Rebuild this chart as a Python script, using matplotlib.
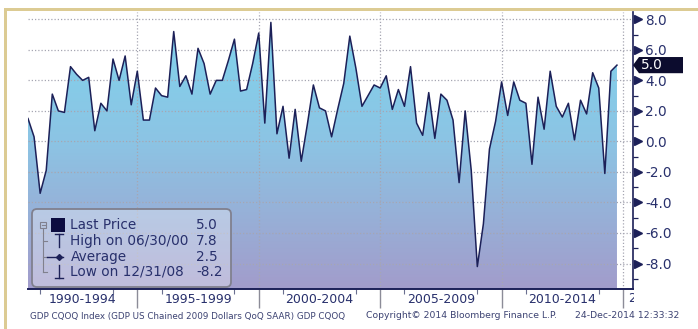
#  GDP CQOQ chart - US real GDP, quarter on quarter (SAAR), Bloomberg style
import matplotlib
matplotlib.use('Agg')
import matplotlib.pyplot as plt
import matplotlib.transforms as mtransforms
from matplotlib.patches import Rectangle, FancyBboxPatch, Polygon
from matplotlib.colors import LinearSegmentedColormap
from matplotlib.ticker import FormatStrFormatter
import numpy as np
import pandas as pd

# ---- data ----
quarters = pd.period_range('1990Q2', '2014Q3', freq='Q')
gdp_qoq = [1.5, 0.3, -3.4,
           -1.9, 3.1, 2.0, 1.9,
           4.9, 4.4, 4.0, 4.2,
           0.7, 2.5, 2.0, 5.4,
           4.0, 5.6, 2.4, 4.6,
           1.4, 1.4, 3.5, 3.0,
           2.9, 7.2, 3.6, 4.3,
           3.1, 6.1, 5.1, 3.1,
           4.0, 4.0, 5.3, 6.7,
           3.3, 3.4, 5.1, 7.1,
           1.2, 7.8, 0.5, 2.3,
           -1.1, 2.1, -1.3, 1.1,
           3.7, 2.2, 2.0, 0.3,
           2.1, 3.8, 6.9, 4.8,
           2.3, 3.0, 3.7, 3.5,
           4.3, 2.1, 3.4, 2.3,
           4.9, 1.2, 0.4, 3.2,
           0.2, 3.1, 2.7, 1.4,
           -2.7, 2.0, -1.9, -8.2,
           -5.4, -0.5, 1.3, 3.9,
           1.7, 3.9, 2.7, 2.5,
           -1.5, 2.9, 0.8, 4.6,
           2.3, 1.6, 2.5, 0.1,
           2.7, 1.8, 4.5, 3.5,
           -2.1, 4.6, 5.0]

period_starts = [1990, 1995, 2000, 2005, 2010]
period_labels = ['1990-1994', '1995-1999', '2000-2004', '2005-2009', '2010-2014']
legend_names = ['Last Price', 'High on 06/30/00', 'Average', 'Low on 12/31/08']
legend_values = ['5.0', '7.8', '2.5', '-8.2']
last_price = 5.0

footer_left = 'GDP CQOQ Index (GDP US Chained 2009 Dollars QoQ SAAR) GDP CQOQ'
footer_mid = 'Copyright\u00a9 2014 Bloomberg Finance L.P.'
footer_right = '24-Dec-2014 12:33:32'

NAVY = '#1c2058'
TEXT = '#28306c'
GRID = '#a6a6b2'
W, H = 698, 329

plt.rcParams['axes.unicode_minus'] = False


def main():
    x = np.array(quarters.year + quarters.quarter * 0.25, dtype=float)
    y = np.array(gdp_qoq)
    ymin, ymax = -9.67, 8.5

    fig = plt.figure(figsize=(W / 100, H / 100), dpi=100)
    ax = fig.add_axes([28 / W, 1 - 289 / H, 605 / W, 277.3 / H])

    # gradient fill under the line, clipped to the area below the curve
    fill = ax.fill_between(x, y, ymin, facecolor='none', edgecolor='none')
    cmap = LinearSegmentedColormap.from_list(
        'bbg', [(0.0, '#a29ccb'), (0.53, '#8cc4e4'), (1.0, '#7fd4ed')])
    grad = np.linspace(0, 1, 256).reshape(-1, 1)
    im = ax.imshow(grad, cmap=cmap, origin='lower', aspect='auto',
                   extent=[x[0], x[-1], ymin, ymax], zorder=0)
    im.set_clip_path(fill.get_paths()[0], transform=ax.transData)

    ax.plot(x, y, color=NAVY, lw=1.1, zorder=3)

    ax.set_xlim(1990.5, 2015.41)
    ax.set_ylim(ymin, ymax)

    # grid + ticks
    ax.set_xticks(range(1995, 2016, 5))
    ax.set_xticks([s + k for s in period_starts for k in (1, 4)], minor=True)
    ax.set_yticks(np.arange(-8, 9, 2))
    ax.set_yticks(np.arange(-9, 8, 2), minor=True)
    ax.grid(True, which='major', color=GRID, linestyle=(0, (1, 1.6)), lw=0.9)
    ax.tick_params(axis='x', which='major', direction='out', length=14,
                   width=1, color='#8c8c98', labelbottom=False)
    ax.tick_params(axis='x', which='minor', direction='out', length=3.5,
                   width=0.8, color='#6a6f90')
    ax.yaxis.tick_right()
    ax.yaxis.set_major_formatter(FormatStrFormatter('%.1f'))
    ax.tick_params(axis='y', which='major', length=0, pad=9,
                   labelsize=9.8, labelcolor=TEXT)
    ax.tick_params(axis='y', which='minor', direction='out', length=3.6,
                   width=0.9, color=NAVY)

    for side in ['top', 'left']:
        ax.spines[side].set_visible(False)
    ax.spines['right'].set_color(NAVY)
    ax.spines['right'].set_linewidth(1.2)
    ax.spines['bottom'].set_color(NAVY)
    ax.spines['bottom'].set_linewidth(1.4)

    # triangle markers on right axis
    trans = mtransforms.blended_transform_factory(ax.transAxes, ax.transData)
    yt = np.arange(-8, 9, 2)
    ax.plot(np.full(len(yt), 1 + 5 / 605), yt, ls='none', marker='>', ms=5.5,
            color=NAVY, transform=trans, clip_on=False, zorder=5)

    # last price tag
    dx = 1 / 605
    tag = Polygon([(1.0, last_price), (1 + 6 * dx, last_price + 0.53),
                   (1 + 50 * dx, last_price + 0.53), (1 + 50 * dx, last_price - 0.53),
                   (1 + 6 * dx, last_price - 0.53)],
                  closed=True, fc='#0c0c2e', ec='none', transform=trans,
                  clip_on=False, zorder=6)
    ax.add_patch(tag)
    ax.text(1 + 8 * dx, last_price, '%.1f' % last_price, transform=trans,
            color='white', fontsize=9.8, va='center', ha='left', zorder=7)

    # period labels under the axis
    centers = [s + 2.5 for s in period_starts]
    centers[0] = 1992.75
    for c, lab in zip(centers, period_labels):
        ax.annotate(lab, xy=(c, 0), xycoords=('data', 'axes fraction'),
                    xytext=(0, -7.3), textcoords='offset points',
                    ha='center', va='center', fontsize=9, color=TEXT)
    cut = fig.text(628 / W, 1 - 299 / H, '2015-2019', fontsize=9, color=TEXT,
                   ha='left', va='center')
    cut.set_clip_box(mtransforms.Bbox([[0, 0], [634, H]]))
    cut.set_clip_on(True)

    # legend box (pixel coordinates)
    lax = fig.add_axes([31 / W, 1 - 288 / H, 201 / W, 80 / H])
    lax.set_xlim(0, 201)
    lax.set_ylim(80, 0)
    lax.axis('off')
    lax.add_patch(FancyBboxPatch((1, 1), 199, 78,
                                 boxstyle='round,pad=0,rounding_size=5',
                                 fc=(1, 1, 1, 0.33), ec='#80808e', lw=1.3))
    rows = [17, 32.7, 48.7, 63.7]
    gray = '#80808e'
    # tree lines
    lax.add_patch(Rectangle((9, 14), 6, 6, fc='none', ec=gray, lw=0.8))
    lax.plot([10.5, 13.5], [17, 17], color=gray, lw=0.8)
    lax.plot([12, 12], [20, rows[3]], color=gray, lw=0.8)
    for r in rows[1:]:
        lax.plot([12, 16], [r, r], color=gray, lw=0.8)
    # symbols
    lax.add_patch(Rectangle((20, 10), 14, 13.5, fc='#0c0c40', ec='none'))
    lax.plot([28, 28], [26, 39], color=NAVY, lw=1)
    lax.plot([24, 32], [26, 26], color=NAVY, lw=1)
    lax.plot([16, 32], [rows[2], rows[2]], color=NAVY, lw=1)
    lax.plot([28], [rows[2]], marker='D', ms=3, color=NAVY)
    lax.plot([28, 28], [57, 70], color=NAVY, lw=1)
    lax.plot([24, 32], [70, 70], color=NAVY, lw=1)
    for r, name, val in zip(rows, legend_names, legend_values):
        lax.text(39.5, r, name, fontsize=9.8, color=TEXT, va='center', ha='left')
        lax.text(165, r, val, fontsize=9.8, color=TEXT, va='center', ha='left')

    # footer
    fig.text(30 / W, 1 - 316 / H, footer_left, fontsize=6.3, color='#3c4272', va='center')
    fig.text(366 / W, 1 - 316 / H, footer_mid, fontsize=6.7, color='#3c4272', va='center')
    fig.text(575 / W, 1 - 316 / H, footer_right, fontsize=6.7, color='#3c4272', va='center')

    # tan frame
    tan = '#dccb93'
    fig.add_artist(Rectangle((4 / W, 1 - 11 / H), 1, 2.7 / H, transform=fig.transFigure,
                             fc=tan, ec='none'))
    fig.add_artist(Rectangle((4 / W, 0), 2.7 / W, 1 - 8.3 / H, transform=fig.transFigure,
                             fc=tan, ec='none'))

    fig.savefig('out.png', dpi=100)


main()
